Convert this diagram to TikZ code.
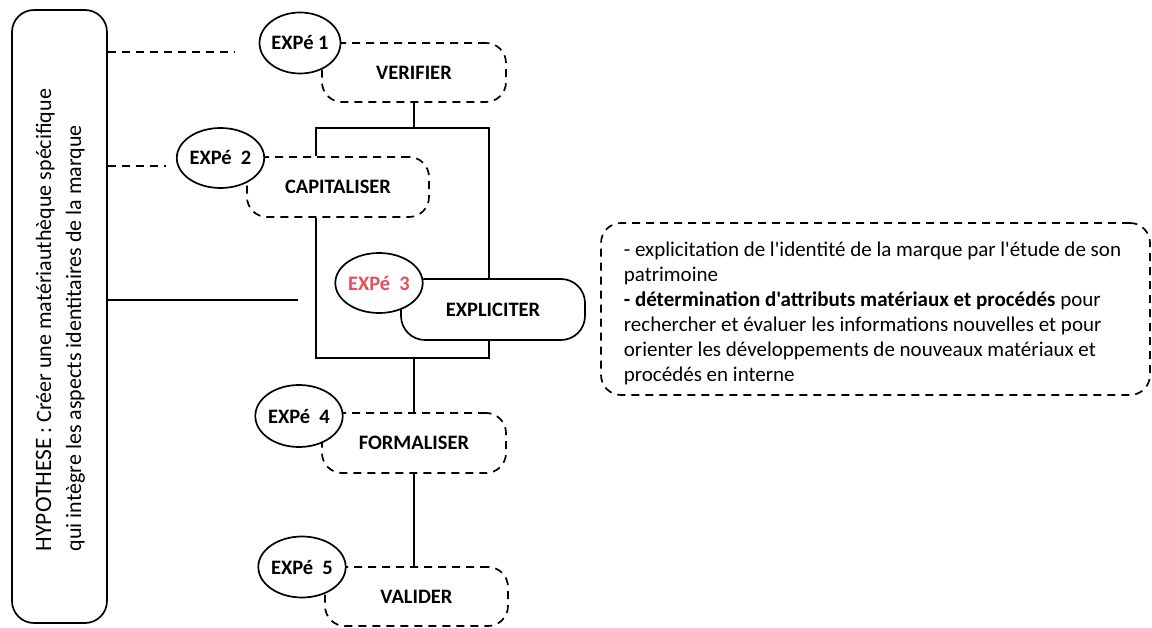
\documentclass[tikz,border=0pt]{standalone}
\usepackage{fontspec}
\setmainfont{Carlito}[Ligatures=TeXOff]
\usetikzlibrary{shapes.geometric}
\definecolor{exred}{RGB}{230,78,92}
\begin{document}
\begin{tikzpicture}[x=1pt,y=-1pt,
  line width=1.7pt,
  dsh/.style={dash pattern=on 8pt off 6pt},
  expe/.style={ellipse, draw, fill=white, minimum width=81pt, minimum height=61pt, inner sep=0pt,
    font=\fontsize{20.5}{24}\selectfont\bfseries},
  actbox/.style={rectangle, rounded corners=20pt, draw, dsh, minimum width=184pt, minimum height=59pt,
    inner sep=0pt, font=\fontsize{20.5}{24}\selectfont\bfseries},
  solbox/.style={rectangle, rounded corners=24pt, draw, fill=white, minimum width=184pt, minimum height=61pt,
    inner sep=0pt, font=\fontsize{20.5}{24}\selectfont\bfseries},
]
\useasboundingbox (0,0) rectangle (1152,628);

% hypothesis box
\node[draw, rounded corners=22pt, minimum width=95pt, minimum height=613pt, inner sep=0pt] (hyp) at (59.5,316.5) {};
\node[rotate=90, anchor=west, align=left, inner sep=0pt, font=\fontsize{22}{30}\selectfont] (hyptxt) at (60.5,552)
  {{\fontsize{23.5}{30}\selectfont HYPOTHESE} : Créer une matériauthèque spécifique\\qui intègre les aspects identitaires de la marque};

% activity boxes
\node[actbox] (verif) at (414,72.5) {VERIFIER};
\node[actbox, minimum width=182pt, minimum height=60pt] (capi) at (338,187) {CAPITALISER};
\node[actbox, minimum height=60pt] (form) at (414,443) {FORMALISER};
\node[actbox, minimum width=183pt] (valid) at (416.5,596.5) {VALIDER};

% bracket
\coordinate (bTL) at (316,128);
\coordinate (bTR) at (489,128);
\coordinate (bBR) at (489,358);
\coordinate (bBL) at (316,358);
\draw (verif.south) -- (verif.south |- bTL);
\draw (capi.north -| bTL) -- (bTL) -- (bTR) -- (bBR) -- (bBL) -- (capi.south -| bBL);
\draw (form.north) -- (form.north |- bBL);
\draw (form.south) -- (form.south |- valid.north);

\node[solbox] (expl) at (493,309.5) {EXPLICITER};

% experiment ellipses
\node[expe] (e1) at (300,43) {EXPé 1};
\node[expe, minimum width=80pt, minimum height=60pt] (e2) at (220.5,158) {EXPé\hspace{0.45em}2};
\node[expe, minimum height=60pt, text=exred] (e3) at (379,283) {EXPé\hspace{0.45em}3};
\node[expe, minimum height=62pt] (e4) at (299,416) {EXPé\hspace{0.45em}4};
\node[expe] (e5) at (302,567) {EXPé\hspace{0.45em}5};

% connectors from hypothesis
\coordinate (d1) at (235,52);
\coordinate (d2) at (166,166);
\coordinate (d3) at (298,300);
\draw[dsh] (hyp.east |- d1) -- (d1);
\draw[dsh] (hyp.east |- d2) -- (d2);
\draw (hyp.east |- d3) -- (d3);

% note box
\node[draw, dsh, rounded corners=20pt, minimum width=549pt, minimum height=172pt, inner sep=0pt] (note) at (875.5,309) {};
\node[anchor=north west, align=left, inner sep=0pt, font=\fontsize{21}{25}\selectfont] (notetxt) at (623,241)
  {- explicitation de l'identité de la marque par l'étude de son\\
   patrimoine\\
   \textbf{- détermination d'attributs matériaux et procédés} pour\\
   rechercher et évaluer les informations nouvelles et pour\\
   orienter les développements de nouveaux matériaux et\\
   procédés en interne};
\end{tikzpicture}
\end{document}
